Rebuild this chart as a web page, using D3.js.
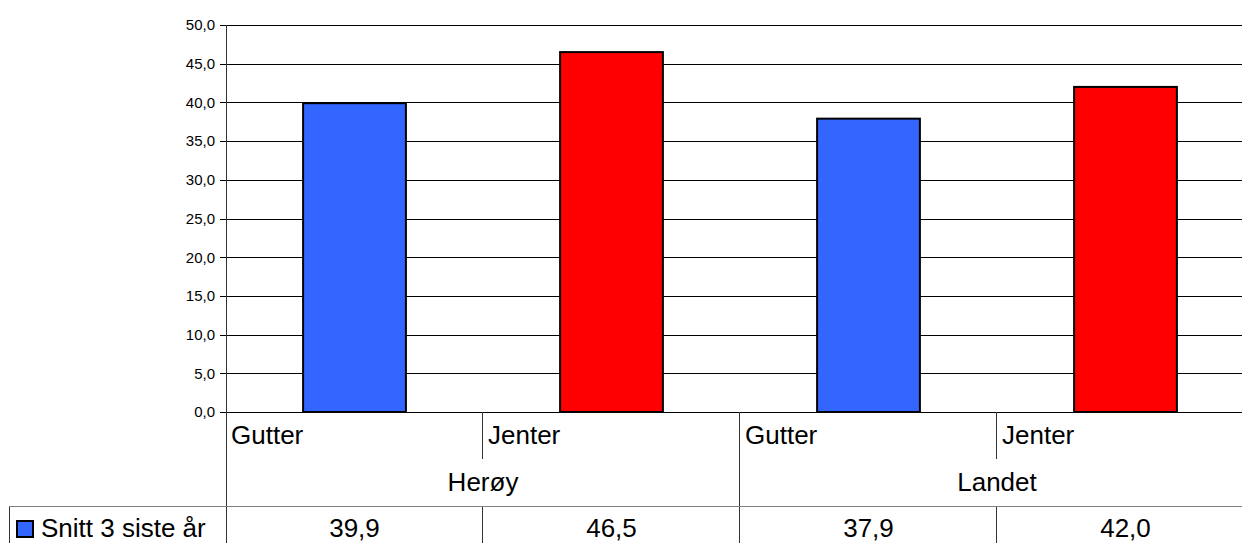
<!DOCTYPE html>
<html><head><meta charset="utf-8">
<script src="https://cdn.jsdelivr.net/npm/d3@7"></script>
<style>body{margin:0;background:#fff;}svg{display:block;font-family:"Liberation Sans",Arial,sans-serif;}</style>
</head><body>
<script>
const groups = ["Herøy", "Landet"];
const categories = ["Gutter", "Jenter", "Gutter", "Jenter"];
const values = [39.9, 46.5, 37.9, 42.0];
const valueLabels = ["39,9", "46,5", "37,9", "42,0"];
const barColors = ["#3366ff", "#ff0000", "#3366ff", "#ff0000"];
const seriesName = "Snitt 3 siste år";
const yTicks = [0, 5, 10, 15, 20, 25, 30, 35, 40, 45, 50];

const W = 1242, H = 543;
const pLeft = 226, pRight = 1254, pTop = 25, pBottom = 412;
const FS = 26;
const svg = d3.select("body").append("svg").attr("width", W).attr("height", H);

const x = d3.scaleBand().domain(d3.range(categories.length)).range([pLeft, pRight]).paddingInner(0).paddingOuter(0);
const y = d3.scaleLinear().domain([0, 50]).range([pBottom, pTop]);

// gridlines
svg.append("g").selectAll("line").data(yTicks).join("line")
  .attr("x1", pLeft).attr("x2", pRight)
  .attr("y1", d => Math.round(y(d)) + 0.5).attr("y2", d => Math.round(y(d)) + 0.5)
  .attr("stroke", "#000").attr("stroke-width", 1);

// y axis
const yAxis = d3.axisLeft(y).tickValues(yTicks).tickSize(6).tickFormat(d => d3.format(".1f")(d).replace(".", ","));
const ga = svg.append("g").attr("transform", `translate(${pLeft},0)`).call(yAxis);
ga.select(".domain").attr("stroke", "#333").attr("shape-rendering", "crispEdges");
ga.selectAll(".tick line").attr("stroke", "#000").attr("shape-rendering", "crispEdges");
ga.selectAll(".tick text").attr("font-size", 15).attr("fill", "#000").attr("font-family", "Liberation Sans, Arial, sans-serif").attr("x", -11);

// bars
const bw = x.bandwidth() * 0.4;
svg.append("g").selectAll("rect").data(values).join("rect")
  .attr("x", (d, i) => x(i) + (x.bandwidth() - bw) / 2)
  .attr("y", d => y(d))
  .attr("width", bw)
  .attr("height", d => y(0) - y(d))
  .attr("fill", (d, i) => barColors[i])
  .attr("stroke", "#000").attr("stroke-width", 2);

// baseline
svg.append("line").attr("x1", pLeft).attr("x2", pRight).attr("y1", pBottom + 0.5).attr("y2", pBottom + 0.5)
  .attr("stroke", "#000").attr("stroke-width", 1);

// table
const tcol = "#808080";
const row1 = 459, row2 = 507;
const g = svg.append("g").attr("shape-rendering", "crispEdges");
g.append("line").attr("x1", pLeft).attr("x2", pLeft).attr("y1", pBottom).attr("y2", H).attr("stroke", "#333");
categories.forEach((c, i) => {
  if (i === 0) return;
  const xx = Math.round(x(i)) - 0.5;
  const full = i % 2 === 0;
  g.append("line").attr("x1", xx).attr("x2", xx).attr("y1", pBottom).attr("y2", full ? H : row1).attr("stroke", "#333");
  if (!full) g.append("line").attr("x1", xx).attr("x2", xx).attr("y1", row2).attr("y2", H).attr("stroke", "#333");
});
g.append("line").attr("x1", 9).attr("x2", pRight).attr("y1", row2 - 0.5).attr("y2", row2 - 0.5).attr("stroke", tcol).attr("stroke-width", 1);
g.append("line").attr("x1", 9.5).attr("x2", 9.5).attr("y1", row2).attr("y2", H).attr("stroke", "#333");

// category labels
svg.append("g").selectAll("text").data(categories).join("text")
  .attr("x", (d, i) => x(i) + 5).attr("y", 444)
  .attr("font-size", FS).attr("fill", "#000").text(d => d);
// group labels
svg.append("g").selectAll("text").data(groups).join("text")
  .attr("x", (d, i) => x(i * 2) + x.bandwidth()).attr("y", 491)
  .attr("text-anchor", "middle").attr("font-size", FS).attr("fill", "#000").text(d => d);
// value labels
svg.append("g").selectAll("text").data(valueLabels).join("text")
  .attr("x", (d, i) => x(i) + x.bandwidth() / 2).attr("y", 537)
  .attr("text-anchor", "middle").attr("font-size", FS).attr("fill", "#000").text(d => d);
// legend key
svg.append("rect").attr("x", 17).attr("y", 521).attr("width", 16).attr("height", 16)
  .attr("fill", barColors[0]).attr("stroke", "#000").attr("stroke-width", 2);
svg.append("text").attr("x", 41).attr("y", 537).attr("font-size", FS).attr("fill", "#000").text(seriesName);
</script>
</body></html>
